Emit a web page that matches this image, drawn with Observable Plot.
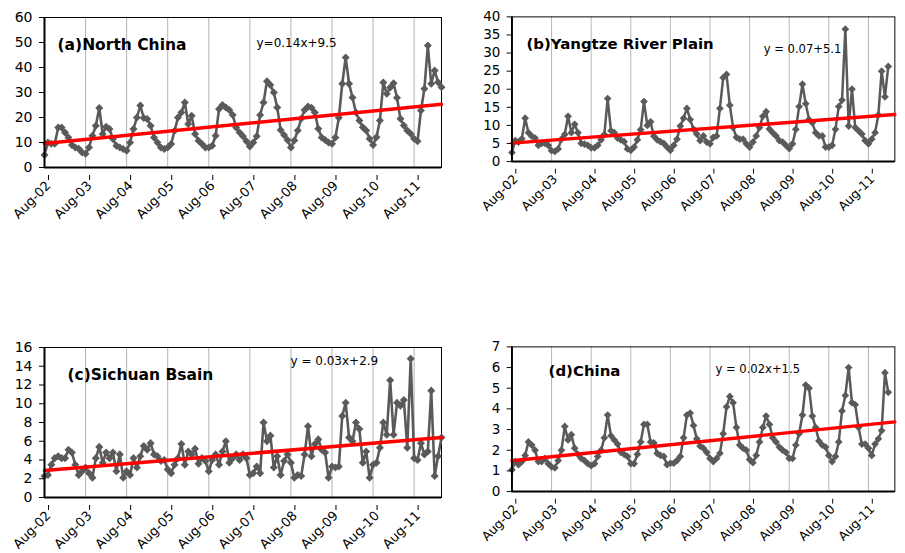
<!DOCTYPE html>
<html><head><meta charset="utf-8">
<script src="https://cdn.jsdelivr.net/npm/d3@7"></script>
<script src="https://cdn.jsdelivr.net/npm/@observablehq/plot@0.6"></script>
<style>
html,body{margin:0;padding:0;background:#fff;}
#wrap{position:relative;width:905px;height:553px;overflow:hidden;background:#fff;}
.panel{position:absolute;}
</style></head><body><div id="wrap"></div>
<script>
// Month index 0 = Aug 2002
const xTickLabels = ["Aug-02","Aug-03","Aug-04","Aug-05","Aug-06","Aug-07","Aug-08","Aug-09","Aug-10","Aug-11"];
const xTickMonths = [0,12,24,36,48,60,72,84,96,108];
const lastMonth = 116;

const northChina = [5,10,9.5,9.5,16,16,14,12,9,8,7.5,6,5.5,8,12.7,16.7,23.8,13.4,16.3,15.4,11.4,8.7,8,7.4,6.7,10,15.4,20,24.8,19.8,19.4,16.7,12,10,8,7.4,8,9.4,14.7,20,22,26,17.4,20.7,13.4,10.7,9.4,8,8,8.7,12.7,23.4,25,24,23,21,16,14,12.5,10.5,8.4,10,12.5,21,26,34.5,33,30,24,15,13,11,8,10.8,14.8,19.5,23,24.4,23.9,22,15.5,12,11,10,9.5,12,19.9,33.5,44,33.5,28,22,18.8,16.1,14.8,11.5,9,12.1,18.8,34,29.5,32,33.7,27.9,19.5,16.8,14.8,13.5,11.5,10.5,22.8,31.5,48.8,33.5,38.8,34.1,32.1];
const yangtze = [2.5,5.8,5.4,6.3,12,8,7,6.5,4.5,5,5,4.5,3,2.8,3.5,6.2,7.5,12.5,8,10.3,8,5,4.8,4.5,3.8,3.8,4.5,6,7.5,17.4,8.5,8,6.5,6,5.5,3.5,3.1,4,6,8.8,16.6,10,11,7,6,5.5,5,4,3.1,4.5,6.2,9.8,12,14.7,11.6,9,7.6,5.8,7.1,5.4,4.9,6.7,7.1,14.7,23.2,24.1,15.6,9.4,6.7,6.2,6.2,4.9,4,5.4,7.1,9.4,12.5,13.8,9,8,7.1,5.8,5.4,4.5,3.6,4.9,8.9,15.2,21.4,16,11.6,10.7,8,7.1,7.1,4,4,4.5,8.9,15.2,17,36.6,9.8,20,9.4,8.5,7.6,5.8,4.9,6.2,8,12.9,25,17.9,26.3];
const sichuan = [2.3,2.4,3.5,4.2,4.4,4.2,4.2,5.1,4.8,3.5,2.4,2.8,3.2,2.6,2.1,4.2,5.4,3.7,4.8,4.2,4.8,2.8,4.6,2.1,2.8,2.4,4.2,3.2,4.4,5.5,5.1,5.8,4.6,4.4,3.9,4,3,2.6,3.5,4.2,5.7,3.5,4.9,4.6,5.2,3.6,4.2,3.9,2.8,4,4.6,3.5,4.9,6,3.7,4.2,4.6,4,4.6,4.2,2.4,2.6,3.3,2.6,8,6,6.6,3.2,4.4,2.4,3.9,4.6,3.7,2.1,2.4,2.3,4.6,7.6,4.4,5.7,6.2,5.1,4.8,2.1,3.3,3.2,3.3,8.7,10.1,6.4,6,8,7.3,3.7,4.9,2.1,3.5,3.7,5.3,8,6.7,12.5,6.7,10.1,9.8,10.4,5.3,14.8,4.2,4,5.8,4.6,4.9,11.4,2.3,4.4,6.4];
const china = [1.05,1.45,1.3,1.45,1.75,2.4,2.25,2,1.45,1.45,1.6,1.35,1.2,1.15,1.5,2,3.15,2.5,2.75,2.1,1.8,1.6,1.5,1.35,1.25,1.35,1.7,2,2.6,3.7,2.7,2.5,2.3,1.9,1.8,1.7,1.35,1.35,1.8,2.4,3.25,3.25,2.4,2.35,1.85,1.75,1.7,1.3,1.37,1.37,1.5,1.7,2.6,3.7,3.8,3.2,2.55,2.2,2.1,1.9,1.6,1.45,1.6,1.85,2.8,4.1,4.6,4.3,3.1,2.25,2.1,2,1.55,1.4,1.75,2.4,3.1,3.65,3.25,2.6,2.4,2.15,2,1.9,1.6,1.6,2.25,2.8,3.7,5.15,5.0,3.65,3.1,2.45,2.25,2.15,1.75,1.45,1.7,2.4,3.9,4.65,6.0,4.3,4.2,3.1,2.3,2.3,2.1,1.75,2.3,2.55,2.95,5.75,4.8];

// trend line values at first and last month
const trendNorthChina = [9.6, 25.3];
const trendYangtze = [5.1, 13.0];
const trendSichuan = [2.87, 6.4];
const trendChina = [1.49, 3.37];

const titles = ["(a)North China","(b)Yangtze River Plain","(c)Sichuan Bsain","(d)China"];
const equations = ["y=0.14x+9.5","y = 0.07+5.1","y = 0.03x+2.9","y = 0.02x+1.5"];
const yMaxes = [60,40,16,7];
const ySteps = [10,5,2,1];

const layout = [
  {left:0, top:0, tdx:13, tdy:32, edx:212, edy:29.5},
  {left:469, top:0, tdx:15, tdy:33, edx:261, edy:37},
  {left:0, top:330, tdx:23, tdy:32, edx:246, edy:17},
  {left:469, top:330, tdx:38, tdy:30, edx:211, edy:27}
];
const series = [northChina, yangtze, sichuan, china];
const trends = [trendNorthChina, trendYangtze, trendSichuan, trendChina];

const grey = "#5a5a5a";
const wrap = document.getElementById("wrap");

series.forEach((vals, k) => {
  const data = vals.map((v, i) => ({m: i, v}));
  const trendData = [{m: 0, v: trends[k][0]}, {m: lastMonth, v: trends[k][1]}];
  const L = layout[k];
  const chart = Plot.plot({
    width: 452, height: 223,
    marginLeft: 44, marginRight: 11, marginTop: 17, marginBottom: 56,
    style: {fontFamily: "DejaVu Sans", fontSize: "14px", color: "black", background: "transparent", overflow: "visible"},
    x: {domain: [0, lastMonth]},
    y: {domain: [0, yMaxes[k]]},
    marks: [
      Plot.gridX(xTickMonths.slice(1), {stroke: "#b4b4b4", strokeOpacity: 1, strokeWidth: 1}),
      Plot.frame({stroke: "#000", strokeWidth: 1}),
      Plot.line(data, {x: "m", y: "v", stroke: grey, strokeWidth: 2.6}),
      Plot.dot(data, {x: "m", y: "v", symbol: "square", rotate: 45, r: 3.2, fill: grey}),
      Plot.line(trendData, {x: "m", y: "v", stroke: "#ff0000", strokeWidth: 3.5}),
      Plot.axisY({ticks: d3.range(0, yMaxes[k] + 1e-9, ySteps[k]), tickFormat: d3.format("d"), tickSize: 5, tickPadding: 7, fontSize: 14, label: null}),
      Plot.axisX({ticks: xTickMonths, tickFormat: d => xTickLabels[xTickMonths.indexOf(d)], tickRotate: -45, textAnchor: "end", lineAnchor: "middle", tickSize: 5, tickPadding: 3, fontSize: 13, dx: 4, dy: 8, label: null}),
      Plot.ruleX([0], {stroke: "#000", strokeWidth: 2}),
      Plot.ruleY([0], {stroke: "#000", strokeWidth: 2}),
      Plot.text([titles[k]], {frameAnchor: "top-left", dx: L.tdx, dy: L.tdy, textAnchor: "start", lineAnchor: "bottom", fontWeight: "bold", fontSize: 15.5}),
      Plot.text([equations[k]], {frameAnchor: "top-left", dx: L.edx, dy: L.edy, textAnchor: "start", lineAnchor: "bottom", fontSize: 12})
    ]
  });
  const div = document.createElement("div");
  div.className = "panel";
  div.style.left = L.left + "px";
  div.style.top = L.top + "px";
  div.appendChild(chart);
  wrap.appendChild(div);
});
</script></body></html>
